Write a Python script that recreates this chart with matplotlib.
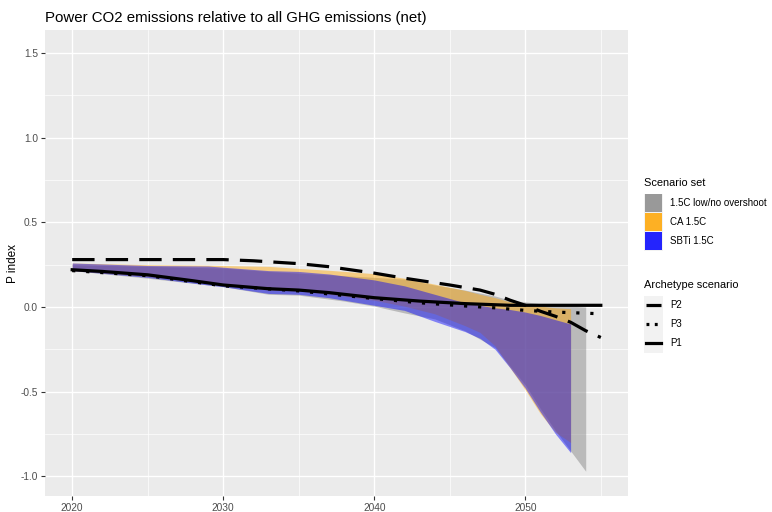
import matplotlib
matplotlib.use("Agg")
import matplotlib.pyplot as plt
from matplotlib.patches import Rectangle
from matplotlib.lines import Line2D

plt.rcParams['font.family'] = ['Liberation Sans', 'DejaVu Sans']

# ---------------- data ----------------
title = "Power CO2 emissions relative to all GHG emissions (net)"
y_label = "P index"
x_ticks = [2020, 2030, 2040, 2050]
y_ticks = [-1.0, -0.5, 0.0, 0.5, 1.0, 1.5]

# Scenario set ribbons (low / high)
gray_name = "1.5C low/no overshoot"
gray_years = [2020, 2025, 2030, 2033, 2035, 2038, 2040, 2042, 2044, 2046, 2048, 2049, 2050, 2051, 2052, 2053, 2054]
gray_hi = [0.25, 0.24, 0.23, 0.21, 0.20, 0.185, 0.175, 0.165, 0.13, 0.10, 0.065, 0.04, 0.03, 0.02, 0.01, 0.005, 0.0]
gray_lo = [0.215, 0.17, 0.12, 0.075, 0.07, 0.035, 0.005, -0.035, -0.07, -0.14, -0.24, -0.35, -0.46, -0.60, -0.73, -0.85, -0.97]

ca_name = "CA 1.5C"
ca_years = [2020, 2025, 2029, 2030, 2033, 2035, 2037, 2040, 2042, 2044, 2046, 2047, 2048, 2049, 2050, 2051, 2052, 2053]
ca_hi = [0.26, 0.25, 0.247, 0.245, 0.24, 0.228, 0.217, 0.197, 0.17, 0.135, 0.098, 0.075, 0.055, 0.03, 0.015, 0.005, -0.005, -0.01]
ca_lo = [0.215, 0.18, 0.14, 0.13, 0.10, 0.095, 0.075, 0.04, 0.005, -0.04, -0.11, -0.15, -0.23, -0.36, -0.49, -0.63, -0.74, -0.80]

sbti_name = "SBTi 1.5C"
sbti_years = [2020, 2025, 2029, 2030, 2033, 2035, 2037, 2040, 2042, 2044, 2046, 2047, 2048, 2049, 2050, 2051, 2052, 2053]
sbti_hi = [0.26, 0.245, 0.242, 0.235, 0.215, 0.21, 0.195, 0.16, 0.125, 0.075, 0.025, 0.01, -0.005, -0.015, -0.03, -0.05, -0.075, -0.10]
sbti_lo = [0.215, 0.175, 0.13, 0.12, 0.08, 0.075, 0.055, 0.01, -0.02, -0.085, -0.145, -0.185, -0.25, -0.36, -0.48, -0.62, -0.75, -0.86]

# Archetype scenario lines
p2_years = [2020, 2025, 2030, 2032, 2035, 2037, 2040, 2042, 2045, 2047, 2048, 2049, 2050, 2051, 2052, 2053, 2054, 2055]
p2_vals = [0.28, 0.28, 0.28, 0.273, 0.256, 0.238, 0.20, 0.17, 0.13, 0.10, 0.075, 0.04, 0.01, -0.025, -0.055, -0.09, -0.14, -0.18]

p3_years = [2020, 2025, 2030, 2035, 2040, 2043, 2046, 2048, 2050, 2052, 2055]
p3_vals = [0.215, 0.185, 0.125, 0.095, 0.05, 0.025, 0.006, -0.005, -0.02, -0.03, -0.04]

p1_years = [2020, 2022, 2025, 2028, 2030, 2033, 2035, 2037, 2040, 2043, 2046, 2049, 2050, 2055]
p1_vals = [0.22, 0.21, 0.19, 0.155, 0.13, 0.108, 0.10, 0.085, 0.055, 0.035, 0.02, 0.01, 0.01, 0.01]

# ---------------- style ----------------
W, H = 772, 512
fig = plt.figure(figsize=(W / 100, H / 100), dpi=100)
L, R, T, B = 45, 628, 30, 496.3
ax = fig.add_axes([L / W, 1 - B / H, (R - L) / W, (B - T) / H])
ax.set_facecolor("#EBEBEB")
for s in ax.spines.values():
    s.set_visible(False)

alpha = 0.45
fill_gray, fill_orange, fill_blue = "#7F7F7F", "#FFA500", "#0000FF"
ax.fill_between(gray_years, gray_lo, gray_hi, color=fill_gray, alpha=alpha, lw=0, zorder=2)
ax.fill_between(ca_years, ca_lo, ca_hi, color=fill_orange, alpha=alpha, lw=0, zorder=2)
ax.fill_between(sbti_years, sbti_lo, sbti_hi, color=fill_blue, alpha=alpha, lw=0, zorder=2)

lw = 2.3
dash_p2 = (0, (7.0, 3.5))
dot_p3 = (0, (1.0, 3.4))
ax.plot(p2_years, p2_vals, color="black", lw=lw, linestyle=dash_p2, dash_capstyle="butt", zorder=3)
ax.plot(p3_years, p3_vals, color="black", lw=lw, linestyle=dot_p3, dash_capstyle="butt", zorder=3)
ax.plot(p1_years, p1_vals, color="black", lw=lw, linestyle="-", zorder=3)

ax.set_xlim(2018.2, 2056.8)
ax.set_ylim(-1.118, 1.636)
ax.set_xticks(x_ticks)
ax.set_xticks([2025, 2035, 2045, 2055], minor=True)
ax.set_yticks(y_ticks)
ax.set_yticks([-0.75, -0.25, 0.25, 0.75, 1.25], minor=True)
ax.set_yticklabels([f"{v:.1f}" for v in y_ticks])
ax.grid(which="major", color="white", lw=1.0, zorder=0)
ax.grid(which="minor", color="white", lw=0.5, zorder=0)
ax.set_axisbelow(True)
ax.tick_params(which="major", length=3, width=0.8, color="#333333", labelcolor="#4D4D4D", labelsize=7.3, pad=2)
ax.tick_params(axis="x", which="major", pad=1.5)
ax.tick_params(which="minor", length=0)
ax.set_ylabel(y_label, fontsize=8.5, color="black")
ax.yaxis.set_label_coords((19 - L) / (R - L), 0.5)

fig.text(L / W, 1 - 18 / H, title, fontsize=10.8, ha="left", va="center", color="black")

# ---------------- legend ----------------
def px(x, y):
    return x / W, 1 - y / H

key_w, key_h = 19, 19
lx = 644
fig.text(*px(lx, 183), "Scenario set", fontsize=7.9, ha="left", va="center")
leg_fill_cols = ["#999999", "#FDB024", "#2424FD"]
for i, (name, col) in enumerate(zip([gray_name, ca_name, sbti_name], leg_fill_cols)):
    ytop = 193.5 + i * key_h
    fig.add_artist(Rectangle(px(lx, ytop + key_h), key_w / W, key_h / H,
                             transform=fig.transFigure, facecolor="#F2F2F2", edgecolor="none"))
    fig.add_artist(Rectangle(px(lx + 0.7, ytop + key_h - 0.7), (key_w - 1.4) / W, (key_h - 1.4) / H,
                             transform=fig.transFigure, facecolor=col, edgecolor="none"))
    fig.text(*px(670, ytop + key_h / 2), name, fontsize=7, ha="left", va="center")

fig.text(*px(lx, 285), "Archetype scenario", fontsize=7.9, ha="left", va="center")
key_styles = [(0, (7.0, 3.5)), (0, (0.9, 1.7)), "-"]
for i, (name, ls) in enumerate(zip(["P2", "P3", "P1"], key_styles)):
    ytop = 295.5 + i * key_h
    fig.add_artist(Rectangle(px(lx, ytop + key_h), key_w / W, key_h / H,
                             transform=fig.transFigure, facecolor="#F2F2F2", edgecolor="none"))
    yc = ytop + key_h / 2
    x0, y0 = px(lx + 1.5, yc)
    x1, _ = px(lx + key_w - 2, yc)
    fig.add_artist(Line2D([x0, x1], [y0, y0], transform=fig.transFigure, color="black",
                          lw=lw, linestyle=ls, dash_capstyle="butt"))
    fig.text(*px(670, yc), name, fontsize=7, ha="left", va="center")

fig.savefig("out.png", dpi=100, facecolor="white")
